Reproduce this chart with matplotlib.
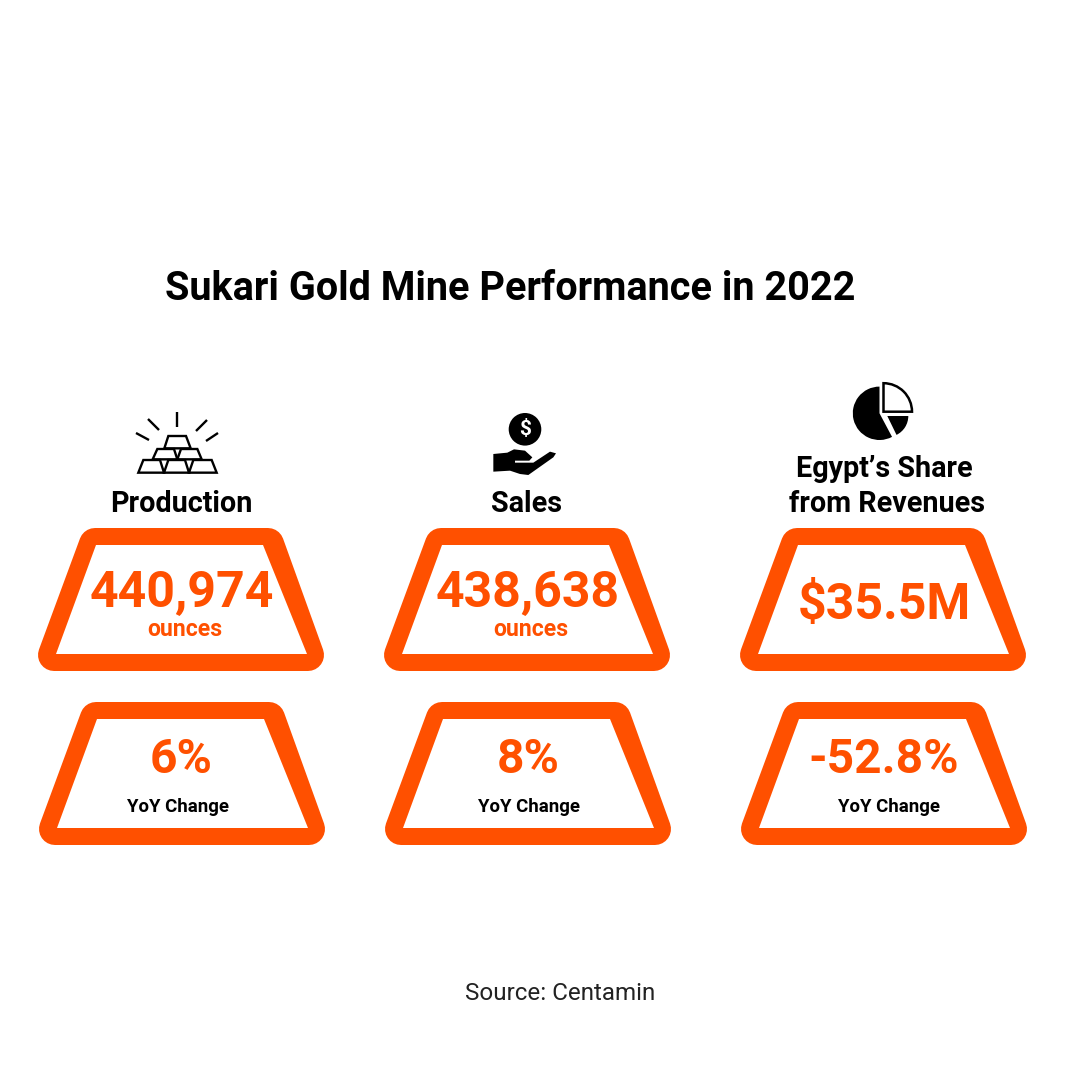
import matplotlib
matplotlib.use("Agg")
import matplotlib.pyplot as plt
from matplotlib.patches import Polygon, Circle, Wedge

ORANGE = "#FF5000"
FONT = "Roboto"
title = "Sukari Gold Mine Performance in 2022"
source = "Source: Centamin"
categories = ["Production", "Sales", "Egypt\u2019s Share", "from Revenues"]
main_values = ["440,974", "438,638", "$35.5M"]
main_units = ["ounces", "ounces", ""]
yoy_values = ["6%", "8%", "-52.8%"]
yoy_label = "YoY Change"

fig = plt.figure(figsize=(10.8, 10.8), dpi=100, facecolor="white")
ax = fig.add_axes([0, 0, 1, 1])
ax.set_xlim(0, 1080)
ax.set_ylim(1080, 0)
ax.axis("off")


def trapezoid(x, y):
    r = 16
    ax.add_patch(Polygon([(x + 57, y + r), (x + 230, y + r), (x + 270, y + 127), (x + 16, y + 127)],
                         closed=True, fc=ORANGE, ec=ORANGE, lw=2 * r * 0.72, joinstyle="round"))
    ax.add_patch(Polygon([(x + 58, y + 17), (x + 225, y + 17), (x + 269, y + 126), (x + 18, y + 126)],
                         closed=True, fc="white", ec="none"))


def txt(x, y, s, size, color="black", weight="bold", **kw):
    ax.text(x, y, s, fontsize=size, color=color, fontweight=weight, family=FONT,
            ha="center", va="center", **kw)


txt(510, 289, title, 28.5)
txt(560.5, 993, source, 17.4, color="#222222", weight="normal")

top_x = [38, 384, 740]
low_x = [39, 385, 741]
for x in top_x:
    trapezoid(x, 528)
for x in low_x:
    trapezoid(x, 702)

label_pos = [(181, 504), (527, 504), (884.5, 469), (887.5, 504)]
for (x, y), c in zip(label_pos, categories):
    txt(x, y, c, 20.7)

main_x = [182, 528, 884]
for i, x in enumerate(main_x):
    y = 594 if main_units[i] else 606
    txt(x, y, main_values[i], 36, color=ORANGE)
    if main_units[i]:
        txt(x + 3, 630, main_units[i], 16.6, color=ORANGE)

yoy_x = [181, 528, 884]
lab_x = [178, 529, 889]
for i in range(3):
    txt(yoy_x[i], 760, yoy_values[i], 34.5, color=ORANGE)
    txt(lab_x[i], 807, yoy_label, 13.4)

# Gold bars icon
LW = 1.7
for a, b in [((177.3, 412), (177.3, 427)), ((148, 419), (159, 430)), ((207, 420), (196, 431)),
             ((136, 433), (149, 440)), ((218, 433), (206, 441))]:
    ax.plot([a[0], b[0]], [a[1], b[1]], color="black", lw=LW, solid_capstyle="butt")
bars = [
    [(205, 108), (258, 108), (272, 145), (193, 145)],
    [(172, 147), (222, 147), (232, 178), (158, 178)],
    [(243, 147), (292, 147), (305, 178), (232, 178)],
    [(130, 180), (180, 180), (192, 218), (115, 218)],
    [(205, 180), (255, 180), (267, 218), (192, 218)],
    [(280, 180), (335, 180), (350, 218), (267, 218)],
]
for b in bars:
    ax.add_patch(Polygon([(100 + p / 3, 400 + q / 3) for p, q in b], closed=True, fc="white", ec="black", lw=LW))

# Hand with coin icon
ax.add_patch(Circle((525, 429.3), 16.3, fc="black", ec="none"))
ax.text(525, 429.5, "$", color="white", fontsize=15, fontweight="bold", family=FONT, ha="center", va="center")
hand = [(70, 162), (112, 158), (132, 148), (165, 152), (187, 172), (178, 182), (135, 182), (135, 188),
        (190, 188), (240, 155), (258, 160), (250, 172), (175, 225), (150, 222), (120, 212), (70, 215)]
ax.add_patch(Polygon([(470 + p / 3, 400 + q / 3) for p, q in hand], closed=True, fc="black", ec="none"))

# Pie icon
ax.add_patch(Wedge((879.5, 413.3), 26.7, 62, 270, fc="black", ec="none"))
ax.add_patch(Wedge((887.3, 416), 21, 0, 64, fc="black", ec="none"))
ax.add_patch(Wedge((883.5, 411.7), 28.5, 270, 360, fc="white", ec="black", lw=1.8))

fig.savefig("out.png", dpi=100, facecolor="white")
